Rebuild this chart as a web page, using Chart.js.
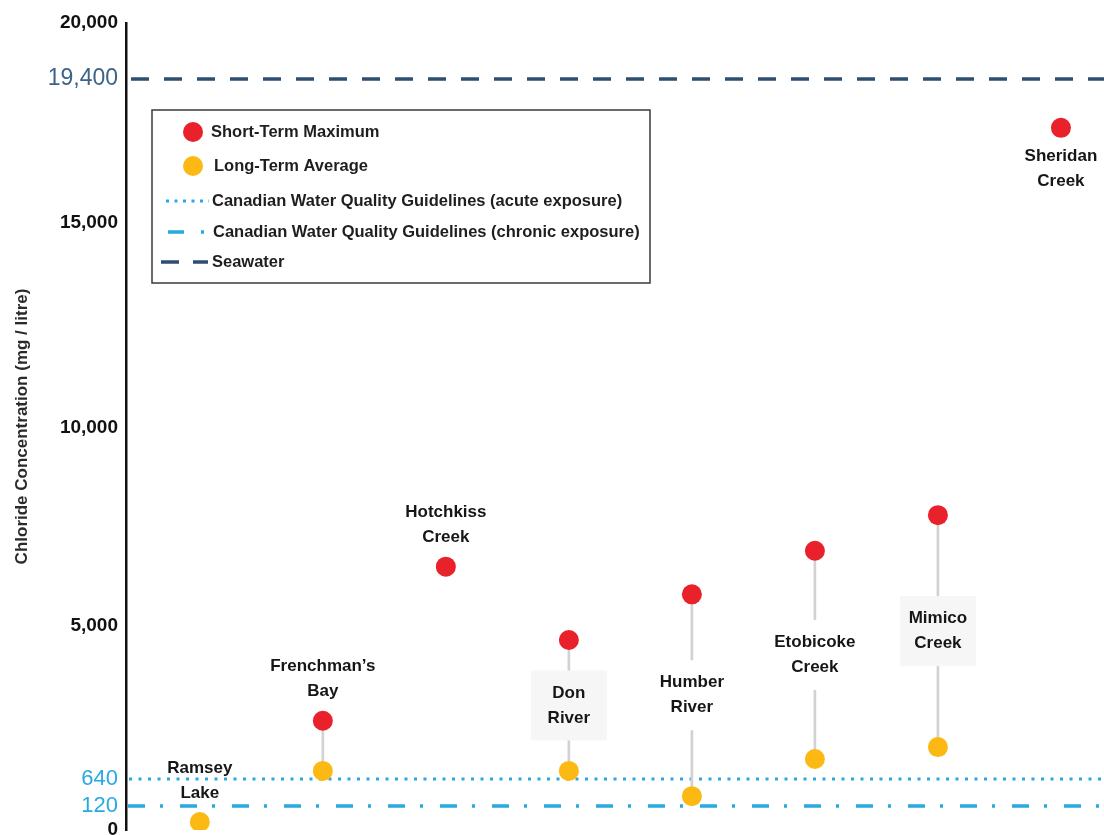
<!DOCTYPE html>
<html>
<head>
<meta charset="utf-8">
<title>Chloride Concentration</title>
<script src="https://cdn.jsdelivr.net/npm/chart.js@4.4.1/dist/chart.umd.min.js"></script>
<style>
  html, body { margin: 0; padding: 0; background: #fff; overflow: hidden; }
  #wrap { position: relative; width: 1104px; height: 835px; }
</style>
</head>
<body>
<div id="wrap"><canvas id="chlorideChart"></canvas></div>
<script>
// sites, left to right
const sites = ['Ramsey Lake', 'Frenchman\u2019s Bay', 'Hotchkiss Creek', 'Don River',
  'Humber River', 'Etobicoke Creek', 'Mimico Creek', 'Sheridan Creek'];

// chloride, mg / litre
const shortTermMax = [null, 2300, 6500, 4600, 5800, 6900, 7800, 17900];
const longTermAvg = [40, 870, null, 870, 310, 1210, 1550, null];

// reference levels
const acuteGuideline = 640;
const chronicGuideline = 120;
const seawater = 19400;

const tickValues = [0, 120, 640, 5000, 10000, 15000, 19400, 20000];

const legendLabels = ['Short-Term Maximum', 'Long-Term Average',
  'Canadian Water Quality Guidelines (acute exposure)',
  'Canadian Water Quality Guidelines (chronic exposure)',
  'Seawater'];

// the printed axis is not to scale: each tick value sits at a fixed share of the height
const axisStops = [0, 0.0297, 0.0632, 0.2528, 0.498, 0.753, 0.9306, 1];

const RED = '#e8212a';
const YELLOW = '#fdb913';
const LIGHT_BLUE = '#29a9e1';
const NAVY = '#2e4f70';
const FONT = '"Liberation Sans", Arial, sans-serif';

function toFraction(v) {
  for (let i = 1; i < tickValues.length; i++) {
    if (v <= tickValues[i]) {
      const t = (v - tickValues[i - 1]) / (tickValues[i] - tickValues[i - 1]);
      return axisStops[i - 1] + t * (axisStops[i] - axisStops[i - 1]);
    }
  }
  return 1;
}

function fromFraction(f) {
  for (let i = 1; i < axisStops.length; i++) {
    if (f <= axisStops[i]) {
      const t = (f - axisStops[i - 1]) / (axisStops[i] - axisStops[i - 1]);
      return tickValues[i - 1] + t * (tickValues[i] - tickValues[i - 1]);
    }
  }
  return tickValues[tickValues.length - 1];
}

class SteppedScale extends Chart.LinearScale {
  getPixelForValue(value) {
    if (value === null || value === undefined || isNaN(value)) return NaN;
    return this.getPixelForDecimal(toFraction(value));
  }
  getValueForPixel(pixel) {
    return fromFraction(this.getDecimalForPixel(pixel));
  }
}
SteppedScale.id = 'stepped';
SteppedScale.defaults = Chart.LinearScale.defaults;
Chart.register(SteppedScale);

// horizontal reference lines, under the points
const guideLines = {
  id: 'guideLines',
  beforeDatasetsDraw(chart) {
    const { ctx, chartArea, scales: { y } } = chart;
    const lines = [
      { value: seawater, color: NAVY, width: 3.5, dash: [18, 15], start: 5 },
      { value: acuteGuideline, color: LIGHT_BLUE, width: 3, dash: [3, 6.5], start: 3 },
      { value: chronicGuideline, color: LIGHT_BLUE, width: 3.5, dash: [17, 15, 3, 17], start: 2 }
    ];
    ctx.save();
    lines.forEach(l => {
      const py = Math.round(y.getPixelForValue(l.value));
      ctx.beginPath();
      ctx.strokeStyle = l.color;
      ctx.lineWidth = l.width;
      ctx.setLineDash(l.dash);
      ctx.moveTo(chartArea.left + l.start, py);
      ctx.lineTo(chart.width, py);
      ctx.stroke();
    });
    ctx.restore();
  }
};

// site names next to their points
const labelSpot = ['above', 'above', 'above', 'between', 'between', 'between', 'between', 'below'];
const labelFill = [null, null, null, '#f6f6f6', '#ffffff', '#ffffff', '#f6f6f6', null];

const siteLabels = {
  id: 'siteLabels',
  afterDatasetsDraw(chart) {
    const { ctx, scales: { x, y } } = chart;
    ctx.save();
    ctx.font = 'bold 17px ' + FONT;
    ctx.textAlign = 'center';
    ctx.textBaseline = 'middle';
    sites.forEach((name, i) => {
      const words = name.split(' ');
      const px = x.getPixelForValue(i);
      const top = shortTermMax[i] != null ? shortTermMax[i] : longTermAvg[i];
      const ty = y.getPixelForValue(top);
      let first;
      if (labelSpot[i] === 'above') {
        first = ty - 54;
      } else if (labelSpot[i] === 'below') {
        first = ty + 28;
      } else {
        const mid = (ty + y.getPixelForValue(longTermAvg[i])) / 2;
        first = mid - 12.5;
      }
      if (labelFill[i]) {
        ctx.fillStyle = labelFill[i];
        ctx.fillRect(px - 38, first - 22.5, 76, 70);
      }
      ctx.fillStyle = '#161616';
      words.forEach((w, k) => ctx.fillText(w, px, first + k * 25));
    });
    ctx.restore();
  }
};

// boxed legend inside the plot
const boxLegend = {
  id: 'boxLegend',
  afterDraw(chart) {
    const { ctx } = chart;
    const box = { left: 152, top: 110, width: 498, height: 173 };
    const rows = [132, 166, 201, 232, 262];
    const textX = [211, 214, 212, 213, 212];
    ctx.save();
    ctx.fillStyle = '#fff';
    ctx.fillRect(box.left, box.top, box.width, box.height);
    ctx.strokeStyle = '#3a3a3a';
    ctx.lineWidth = 1.5;
    ctx.strokeRect(box.left, box.top, box.width, box.height);

    [RED, YELLOW].forEach((c, k) => {
      ctx.beginPath();
      ctx.fillStyle = c;
      ctx.arc(193, rows[k], 10, 0, Math.PI * 2);
      ctx.fill();
    });

    const marks = [
      { row: 2, color: LIGHT_BLUE, width: 3, dash: [3, 5.5], from: 166, to: 209 },
      { row: 3, color: LIGHT_BLUE, width: 3.5, dash: [16, 17, 3, 20], from: 168, to: 207 },
      { row: 4, color: NAVY, width: 3.5, dash: [18, 14], from: 161, to: 208 }
    ];
    marks.forEach(m => {
      ctx.beginPath();
      ctx.strokeStyle = m.color;
      ctx.lineWidth = m.width;
      ctx.setLineDash(m.dash);
      ctx.moveTo(m.from, rows[m.row]);
      ctx.lineTo(m.to, rows[m.row]);
      ctx.stroke();
    });
    ctx.setLineDash([]);

    ctx.font = 'bold 16.5px ' + FONT;
    ctx.fillStyle = '#1e1e1e';
    ctx.textAlign = 'left';
    ctx.textBaseline = 'middle';
    legendLabels.forEach((t, k) => ctx.fillText(t, textX[k], rows[k]));
    ctx.restore();
  }
};

function tickColor(c) {
  const v = c.tick ? c.tick.value : null;
  if (v === seawater) return '#3c6388';
  if (v === acuteGuideline || v === chronicGuideline) return LIGHT_BLUE;
  return '#111';
}

function tickFont(c) {
  const v = c.tick ? c.tick.value : null;
  if (v === seawater) return { family: FONT, size: 23, weight: 'normal' };
  if (v === acuteGuideline || v === chronicGuideline) return { family: FONT, size: 22, weight: 'normal' };
  return { family: FONT, size: 19, weight: 'bold' };
}

const asPoints = (arr) => arr.map((v, i) => ({ x: i, y: v }));

const ctx = document.getElementById('chlorideChart').getContext('2d');
const chart = new Chart(ctx, {
  type: 'bar',
  data: {
    datasets: [
      {
        label: 'Short-Term Maximum',
        type: 'line',
        data: asPoints(shortTermMax),
        showLine: false,
        pointRadius: 10,
        pointBackgroundColor: RED,
        pointBorderWidth: 0,
        order: 1
      },
      {
        label: 'Long-Term Average',
        type: 'line',
        data: asPoints(longTermAvg),
        showLine: false,
        pointRadius: 10,
        pointBackgroundColor: YELLOW,
        pointBorderWidth: 0,
        order: 1
      },
      {
        label: 'range',
        data: sites.map((_, i) => ({
          x: i,
          y: (shortTermMax[i] != null && longTermAvg[i] != null) ? [longTermAvg[i], shortTermMax[i]] : null
        })),
        backgroundColor: '#d2d2d2',
        barThickness: 2,
        order: 3
      }
    ]
  },
  options: {
    responsive: true,
    maintainAspectRatio: false,
    animation: false,
    layout: { autoPadding: false, padding: { top: 23, bottom: 5, left: 0, right: 0 } },
    plugins: {
      legend: { display: false },
      tooltip: { enabled: false }
    },
    scales: {
      x: {
        type: 'linear',
        display: false,
        min: -0.6,
        max: 7.35,
        offset: false
      },
      y: {
        type: 'stepped',
        min: 0,
        max: 20000,
        afterBuildTicks: (scale) => {
          scale.ticks = tickValues.map(v => ({ value: v }));
        },
        afterFit: (scale) => {
          scale.width = 126;
          scale.paddingTop = 0;
          scale.paddingBottom = 0;
        },
        grid: { display: false, drawTicks: false },
        border: { display: true, color: '#111', width: 2.5 },
        ticks: {
          padding: 8,
          autoSkip: false,
          color: tickColor,
          font: tickFont,
          callback: (v) => Number(v).toLocaleString('en-US')
        },
        title: {
          display: true,
          text: 'Chloride Concentration (mg / litre)',
          color: '#2a2a2a',
          font: { family: FONT, size: 17, weight: 'bold' },
          padding: { top: 12, bottom: 0 }
        }
      }
    }
  },
  plugins: [guideLines, siteLabels, boxLegend]
});
</script>
</body>
</html>
